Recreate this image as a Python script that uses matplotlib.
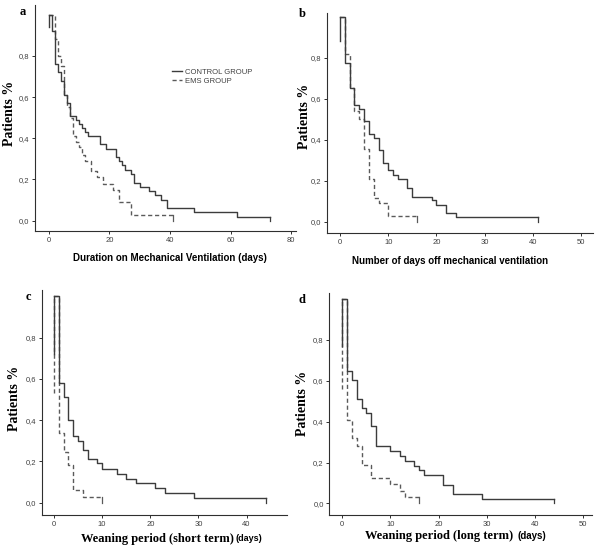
import numpy as np
import matplotlib
matplotlib.use('Agg')
import matplotlib.pyplot as plt

# panel a: duration on mechanical ventilation
a_ctrl_t = [1, 2, 3, 4, 5, 6, 7, 9, 10, 11, 12, 13, 17, 19, 22, 23, 24, 25, 27, 28, 30, 33, 35, 37, 39, 48, 62]
a_ctrl_s = [0.92, 0.76, 0.72, 0.68, 0.61, 0.57, 0.51, 0.49, 0.47, 0.45, 0.43, 0.41, 0.37, 0.35, 0.31, 0.29,
            0.27, 0.245, 0.225, 0.185, 0.165, 0.145, 0.125, 0.10, 0.06, 0.04, 0.02]
a_ctrl_end, a_ctrl_low = 73, 0.94
a_ems_t = [2, 3, 4, 5, 6, 7, 8, 9, 10, 11, 12, 14, 16, 18, 21, 23, 27]
a_ems_s = [0.88, 0.80, 0.75, 0.61, 0.55, 0.50, 0.41, 0.38, 0.36, 0.32, 0.29, 0.24, 0.21, 0.18, 0.15, 0.09, 0.03]
a_ems_end, a_ems_low = 41, None

# panel b: days off mechanical ventilation
b_ctrl_t = [1, 2, 3, 4, 5, 6, 7, 8, 9, 10, 11, 12, 14, 15, 19, 20, 22, 24]
b_ctrl_s = [0.775, 0.65, 0.57, 0.55, 0.49, 0.43, 0.41, 0.35, 0.285, 0.25, 0.228, 0.208, 0.163, 0.122,
            0.104, 0.083, 0.041, 0.021]
b_ctrl_end, b_ctrl_low = 41, 0.88
b_ems_t = [1, 2, 3, 4, 5, 6, 7, 8, 10]
b_ems_s = [0.82, 0.65, 0.54, 0.50, 0.355, 0.208, 0.117, 0.09, 0.03]
b_ems_end, b_ems_low = 16, None

# panel c: weaning period, short term
c_ctrl_t = [1, 2, 3, 4, 5, 6, 7, 9, 10, 13, 15, 17, 21, 23, 29]
c_ctrl_s = [0.58, 0.51, 0.40, 0.325, 0.30, 0.255, 0.21, 0.19, 0.165, 0.137, 0.113, 0.095, 0.07, 0.045, 0.022]
c_ctrl_end, c_ctrl_low = 44, 0.72
c_ems_t = [1, 2, 3, 4, 6]
c_ems_s = [0.34, 0.247, 0.183, 0.062, 0.029]
c_ems_end, c_ems_low = 10, 0.53

# panel d: weaning period, long term
d_ctrl_t = [1, 2, 3, 4, 5, 6, 7, 10, 12, 13, 15, 16, 17, 21, 23, 29]
d_ctrl_s = [0.65, 0.605, 0.513, 0.465, 0.44, 0.378, 0.28, 0.257, 0.233, 0.209, 0.185, 0.162, 0.139, 0.09, 0.044, 0.021]
d_ctrl_end, d_ctrl_low = 44, 0.77
d_ems_t = [1, 2, 3, 4, 6, 10, 12, 13]
d_ems_s = [0.408, 0.318, 0.282, 0.19, 0.122, 0.095, 0.062, 0.029]
d_ems_end, d_ems_low = 16, 0.56

ytick_vals = [0.0, 0.2, 0.4, 0.6, 0.8]
ytick_labels = ['0,0', '0,2', '0,4', '0,6', '0,8']

SOLID = '#3c3c3c'
DASH = '#5a5a5a'
TXT = '#404040'

fig = plt.figure(figsize=(6, 5.52), dpi=100)
W, H = 600.0, 552.0


def px_axes(l, t, r, b):
    return fig.add_axes([l / W, 1 - b / H, (r - l) / W, (b - t) / H])


def km(ax, t, s, end, low, ls, col, label=None):
    xs = [0] + list(t) + [end]
    ys = [1.0] + list(s) + [s[-1]]
    line, = ax.step(xs, ys, where='post', color=col, lw=1.0, ls=ls, label=label)
    if ls != '-':
        line.set_dashes((3, 2))
    if low is not None:
        l2, = ax.plot([0, 0], [low, 1.0], color=col, lw=1.0, ls=ls)
        if ls != '-':
            l2.set_dashes((3, 2))
    # censor mark at the end
    ax.plot([end, end], [s[-1], 0.0], color=col, lw=0.9)


def style(ax, xlim, ylim, xticks):
    ax.set_xlim(*xlim)
    ax.set_ylim(*ylim)
    for sp in ['top', 'right']:
        ax.spines[sp].set_visible(False)
    for sp in ['left', 'bottom']:
        ax.spines[sp].set_color('#2f2f2f')
        ax.spines[sp].set_linewidth(0.8)
    ax.set_yticks(ytick_vals)
    ax.set_yticklabels(ytick_labels)
    ax.set_xticks(xticks)
    ax.tick_params(length=2.5, width=0.7, pad=1.5, labelsize=5.5, colors='#2f2f2f', labelcolor=TXT)
    for lab in ax.get_xticklabels() + ax.get_yticklabels():
        lab.set_family('Liberation Sans')


# --- a
ax = px_axes(35, 5, 296, 231)
km(ax, a_ems_t, a_ems_s, a_ems_end, a_ems_low, '--', DASH, 'EMS GROUP')
km(ax, a_ctrl_t, a_ctrl_s, a_ctrl_end, a_ctrl_low, '-', SOLID, 'CONTROL GROUP')
style(ax, (-4.6, 81.6), (-0.05, 1.047), [0, 20, 40, 60, 80])
h, l = ax.get_legend_handles_labels()
leg = ax.legend(h[::-1], l[::-1], loc='upper left', bbox_to_anchor=(0.5, 0.75), frameon=False,
                handlelength=1.3, handletextpad=0.3, labelspacing=0.25,
                prop={'family': 'Liberation Sans', 'size': 5.5})
for t in leg.get_texts():
    t.set_color(TXT)

# --- b
ax = px_axes(326.7, 13, 593, 233)
km(ax, b_ems_t, b_ems_s, b_ems_end, b_ems_low, '--', DASH)
km(ax, b_ctrl_t, b_ctrl_s, b_ctrl_end, b_ctrl_low, '-', SOLID)
style(ax, (-2.76, 52.5), (-0.055, 1.018), [0, 10, 20, 30, 40, 50])

# --- c
ax = px_axes(41.7, 290, 287, 515)
km(ax, c_ems_t, c_ems_s, c_ems_end, c_ems_low, '--', DASH)
km(ax, c_ctrl_t, c_ctrl_s, c_ctrl_end, c_ctrl_low, '-', SOLID)
style(ax, (-2.55, 48.4), (-0.06, 1.031), [0, 10, 20, 30, 40])

# --- d
ax = px_axes(329.3, 293, 592, 515)
km(ax, d_ems_t, d_ems_s, d_ems_end, d_ems_low, '--', DASH)
km(ax, d_ctrl_t, d_ctrl_s, d_ctrl_end, d_ctrl_low, '-', SOLID)
style(ax, (-2.7, 51.9), (-0.057, 1.03), [0, 10, 20, 30, 40, 50])


def ftext(x, y, s, **kw):
    fig.text(x / W, 1 - y / H, s, **kw)


serif = dict(family='Liberation Serif', weight='bold', color='black')
sans = dict(family='Liberation Sans', weight='bold', color='black')

# panel letters
ftext(23, 12, 'a', fontsize=9, ha='center', va='center', **serif)
ftext(302, 14, 'b', fontsize=9, ha='center', va='center', **serif)
ftext(28, 297, 'c', fontsize=9, ha='center', va='center', **serif)
ftext(302, 300, 'd', fontsize=9, ha='center', va='center', **serif)

# y labels
for (x, y) in [(10, 113), (305, 116), (15, 398), (303, 403)]:
    ftext(x, y, 'Patients %', fontsize=10, rotation=90, ha='center', va='center', **serif)

# x labels
ftext(170, 258, 'Duration on Mechanical Ventilation (days)', fontsize=7, ha='center', va='center', **sans)
ftext(450, 260.5, 'Number of days off mechanical ventilation', fontsize=7, ha='center', va='center', **sans)
ftext(80.7, 542, 'Weaning period (short term)', fontsize=9, ha='left', va='baseline', **serif)
ftext(235.7, 541, '(days)', fontsize=6.5, ha='left', va='baseline', **sans)
ftext(365, 539, 'Weaning period (long term)', fontsize=9, ha='left', va='baseline', **serif)
ftext(518, 539, '(days)', fontsize=7, ha='left', va='baseline', **sans)

fig.savefig('out.png', dpi=100, facecolor='white')
